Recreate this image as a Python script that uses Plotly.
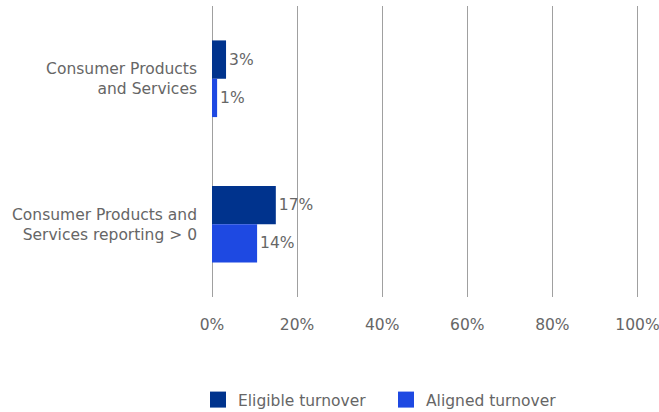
import plotly.graph_objects as go

categories = ["Consumer Products<br>and Services", "Consumer Products and<br>Services reporting > 0"]
series_names = ["Eligible turnover", "Aligned turnover"]
eligible_values = [3.3, 15.0]
aligned_values = [1.2, 10.6]
eligible_labels = ["3%", "17%"]
aligned_labels = ["1%", "14%"]
x_tick_values = [0, 20, 40, 60, 80, 100]
x_tick_labels = ["0%", "20%", "40%", "60%", "80%", "100%"]

colors = ["#00338D", "#1E49E2"]
FONT = "DejaVu Sans, Liberation Sans, Arial, sans-serif"
GREY = "#666666"
FS = 15.5

fig = go.Figure()
for name, vals, labs, col in [
    (series_names[0], eligible_values, eligible_labels, colors[0]),
    (series_names[1], aligned_values, aligned_labels, colors[1]),
]:
    fig.add_trace(go.Bar(
        y=categories, x=vals, orientation="h", name=name,
        marker=dict(color=col, line=dict(width=0)),
        text=labs, textposition="outside", cliponaxis=False,
        textfont=dict(color=GREY, size=FS, family=FONT),
        showlegend=False, hoverinfo="skip",
    ))
    # legend proxy with larger square symbol
    fig.add_trace(go.Scatter(
        x=[None], y=[None], mode="markers", name=name,
        marker=dict(symbol="square", size=16, color=col),
        showlegend=True,
    ))

fig.update_layout(
    width=659, height=412,
    margin=dict(l=212, r=19, t=6, b=115, autoexpand=False),
    paper_bgcolor="white", plot_bgcolor="white",
    font=dict(family=FONT, size=FS, color=GREY),
    barmode="group", bargap=0.473, bargroupgap=0,
    legend=dict(
        orientation="h", x=198 / 659, xanchor="left", xref="container",
        y=-0.354, yanchor="middle", yref="paper",
        font=dict(size=FS, color=GREY),
        entrywidth=143, entrywidthmode="pixels",
        itemclick=False,
    ),
)
fig.update_xaxes(
    range=[0, 100.6], tickvals=x_tick_values, ticktext=x_tick_labels,
    showgrid=True, gridcolor="#a0a0a0", gridwidth=1,
    zeroline=True, zerolinecolor="#a0a0a0", zerolinewidth=1,
    showline=False, ticks="", ticklabelstandoff=16, automargin=False,
    ticklabeloverflow="allow",
    tickfont=dict(size=FS, color=GREY, family=FONT), fixedrange=True,
)
fig.update_yaxes(
    categoryorder="array", categoryarray=categories, autorange="reversed",
    showgrid=False, zeroline=False, showline=False, ticks="",
    ticklabelstandoff=14, automargin=False,
    tickfont=dict(size=FS, color=GREY, family=FONT), fixedrange=True,
)

fig.write_html("out.html", config={"displayModeBar": False},
               post_script="document.body.style.margin='0';")
